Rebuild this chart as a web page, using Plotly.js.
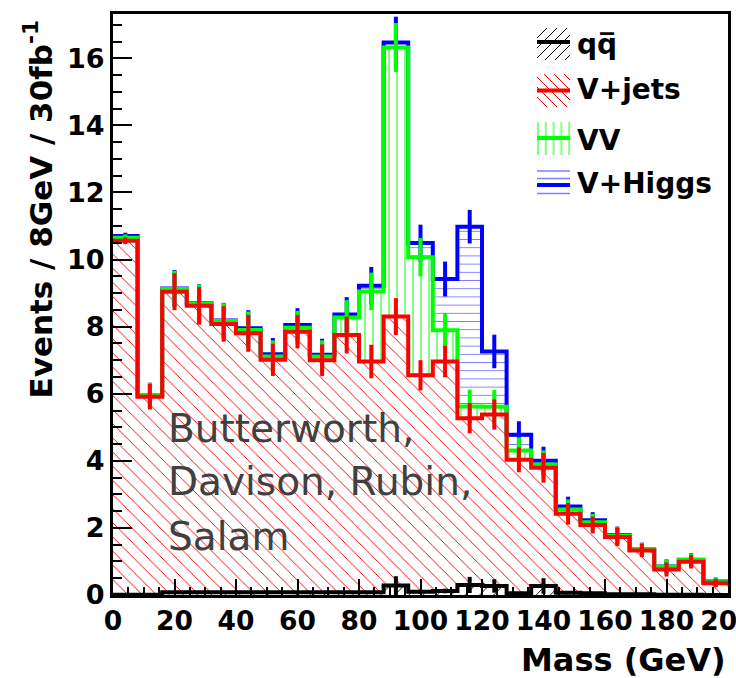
<!DOCTYPE html>
<html><head><meta charset="utf-8">
<script src="https://cdn.plot.ly/plotly-3.0.1.min.js"></script>
<style>html,body{margin:0;padding:0;background:#fff;overflow:hidden}#chart{width:736px;height:678px}
#chart pattern path{shape-rendering:crispEdges}</style>
</head><body><div id="chart"></div>
<script>
// ---- data (8 GeV bins, 0-200 GeV) ----
const binLow = [0,8,16,24,32,40,48,56,64,72,80,88,96,104,112,120,128,136,144,152,160,168,176,184,192];
const binWidth = 8;
// per-process contributions (stacked in order qq, V+jets, VV, V+Higgs)
const qq    = [0.01,0.01,0.08,0.08,0.08,0.08,0.08,0.08,0.08,0.08,0.08,0.28,0.10,0.12,0.30,0.27,0.05,0.27,0.07,0.05,0.02,0.02,0.01,0.01,0.00];
const vjets = [10.55,5.90,8.96,8.54,8.00,7.72,6.93,7.77,6.92,7.67,6.88,8.02,6.45,6.84,4.97,5.11,3.98,3.52,2.35,2.04,1.71,1.31,0.75,0.98,0.35];
const vv    = [0.09,0.03,0.08,0.07,0.09,0.10,0.10,0.12,0.11,0.52,2.09,8.02,3.52,0.93,0.35,0.23,0.28,0.10,0.13,0.08,0.03,0.02,0.08,0.05,0.03];
const vh    = [0.05,0.01,0.02,0.01,0.01,0.05,0.07,0.08,0.05,0.09,0.17,0.15,0.42,1.53,5.36,1.65,0.47,0.11,0.09,0.06,0.02,0.01,0.01,0.01,0.02];
// statistical errors on each stacked total
const errQQ    = [0.01,0.01,0.04,0.04,0.04,0.04,0.04,0.04,0.04,0.04,0.04,0.28,0.06,0.07,0.24,0.20,0.04,0.23,0.05,0.04,0.02,0.02,0.01,0.01,0.00];
const errVjets = [0.10,0.38,0.55,0.56,0.53,0.55,0.48,0.50,0.47,0.55,0.50,0.55,0.45,0.47,0.45,0.45,0.37,0.44,0.32,0.25,0.27,0.20,0.21,0.20,0.12];
const errVV    = [0.10,0.38,0.55,0.56,0.53,0.55,0.48,0.50,0.48,0.52,0.56,0.73,0.57,0.52,0.50,0.50,0.39,0.42,0.30,0.25,0.26,0.20,0.21,0.20,0.12];
const errVH    = [0.10,0.38,0.55,0.56,0.53,0.54,0.48,0.50,0.48,0.52,0.56,0.77,0.55,0.52,0.50,0.50,0.40,0.42,0.29,0.24,0.26,0.20,0.21,0.20,0.12];
const xTickVals = [0,20,40,60,80,100,120,140,160,180,200];
const xTickText = ['0','20','40','60','80','100','120','140','160','180','200'];
const yTickVals = [0,2,4,6,8,10,12,14,16];
const yTickText = ['0','2','4','6','8','10','12','14','16'];
const legendLabels = ['qq\u0305', 'V+jets', 'VV', 'V+Higgs'];
const authorLines = ['Butterworth,', 'Davison, Rubin,', 'Salam'];
const xTitle = 'Mass (GeV)';
const yTitle = 'Events / 8GeV / 30fb<sup>-1</sup>';

// ---- derived ----
const edges = binLow.concat([binLow[binLow.length-1] + binWidth]);
const centers = binLow.map(v => v + binWidth/2);
function cumsum(arrs){ return arrs[0].map((_, i) => arrs.reduce((s, a) => s + a[i], 0)); }
const topQQ = qq.slice();
const topVjets = cumsum([qq, vjets]);
const topVV = cumsum([qq, vjets, vv]);
const topVH = cumsum([qq, vjets, vv, vh]);

const FONT = 'DejaVu Sans';
function barTrace(y, shape, fg, size, sol){
  return {type:'bar', x:centers, y:y, width:binWidth, hoverinfo:'skip', showlegend:false,
    marker:{color:'white', line:{width:0},
      pattern:{shape:shape, fgcolor:fg, bgcolor:'white', size:size, solidity:sol, fillmode:'replace'}}};
}
function stepTrace(y, color, w){
  return {type:'scatter', mode:'lines', x:edges, y:y.concat([y[y.length-1]]), hoverinfo:'skip', showlegend:false,
    line:{shape:'hv', color:color, width:w}};
}
function errTrace(y, err, color, th){
  return {type:'scatter', mode:'markers', x:centers, y:y, hoverinfo:'skip', showlegend:false,
    marker:{size:2, color:color, opacity:0},
    error_y:{type:'data', array:err, visible:true, color:color, thickness:th, width:0}};
}

const traces = [
  barTrace(topVH, '-', '#7f7fff', 8.2, 0.2),
  barTrace(topVV, '|', '#80ff80', 8, 0.25),
  barTrace(topVjets, '\\', '#ff0000', 10, 0.11),
  barTrace(topQQ, '/', '#000000', 10, 0.11),
  stepTrace(topVH, '#0000ff', 4), errTrace(topVH, errVH, '#0000ff', 4),
  stepTrace(topVV, '#00ff00', 4), errTrace(topVV, errVV, '#00ff00', 4),
  stepTrace(topVjets, '#ff0000', 4), errTrace(topVjets, errVjets, '#ff0000', 4),
  stepTrace(topQQ, '#000000', 4), errTrace(topQQ, errQQ, '#000000', 4)
];

// ---- pixel helpers for legend decoration ----
const PL = 113, PR = 728, PT = 14, PB = 595;
const px2x = px => (px - PL) / (PR - PL);
const px2y = py => (PB - py) / (PB - PT);
function seg(x0, y0, x1, y1, color, w){
  return {type:'line', xref:'paper', yref:'paper', layer:'above',
    x0:px2x(x0), y0:px2y(y0), x1:px2x(x1), y1:px2y(y1), line:{color:color, width:w}};
}
function hatchShapes(box, kind, color, spacing, w){
  const [x0, x1, y0, y1] = box; const W = x1 - x0, H = y1 - y0; const out = [];
  if (kind === '\\'){
    for (let c = -H; c < W; c += spacing){
      const t0 = Math.max(0, -c), t1 = Math.min(H, W - c);
      if (t1 > t0) out.push(seg(x0 + c + t0, y0 + t0, x0 + c + t1, y0 + t1, color, w));
    }
  } else if (kind === '/'){
    for (let c = 0; c < W + H; c += spacing){
      const t0 = Math.max(0, c - W), t1 = Math.min(H, c);
      if (t1 > t0) out.push(seg(x0 + c - t0, y0 + t0, x0 + c - t1, y0 + t1, color, w));
    }
  } else if (kind === '|'){
    for (let x = x0 + 1; x <= x1; x += spacing) out.push(seg(x, y0, x, y1, color, w));
  } else if (kind === '-'){
    for (let y = y0 + 3; y <= y1; y += spacing) out.push(seg(x0, y, x1, y, color, w));
  }
  return out;
}
const legendDefs = [
  {box:[537,570,28,60],  hatch:'/',  hc:'#000000', hs:10, hw:1,   line:'#000000', ly:42,  ty:45},
  {box:[537,570,74,107], hatch:'\\', hc:'#ff0000', hs:10, hw:1,   line:'#ff0000', ly:90.5, ty:89},
  {box:[537,570,122,155],hatch:'|',  hc:'#80ff80', hs:7.8, hw:2,  line:'#00ff00', ly:138, ty:140},
  {box:[537,570,168,198],hatch:'-',  hc:'#7f7fff', hs:7.5, hw:1.6,line:'#0000ff', ly:185, ty:183}
];
let shapes = [];
const annotations = [];
legendDefs.forEach((d, i) => {
  shapes = shapes.concat(hatchShapes(d.box, d.hatch, d.hc, d.hs, d.hw));
  shapes.push(seg(d.box[0], d.ly, d.box[1], d.ly, d.line, 4));
  annotations.push({xref:'paper', yref:'paper', x:px2x(575), y:px2y(d.ty), xanchor:'left', yanchor:'middle',
    text:legendLabels[i], showarrow:false, font:{family:FONT, size:28, weight:'bold', color:'black'}});
});
const authorY = [428, 481, 536];
authorLines.forEach((t, i) => {
  annotations.push({xref:'paper', yref:'paper', x:px2x(166), y:px2y(authorY[i]), xanchor:'left', yanchor:'middle', align:'left',
    text:t, showarrow:false, font:{family:FONT, size:39, color:'#404040'}});
});
annotations.push({xref:'paper', yref:'paper', x:px2x(38), y:px2y(18), xanchor:'center', yanchor:'top', textangle:-90,
  text:yTitle, showarrow:false, font:{family:FONT, size:31, weight:'bold', color:'black'}});
annotations.push({xref:'paper', yref:'paper', x:px2x(728), y:px2y(660), xanchor:'right', yanchor:'middle',
  text:xTitle, showarrow:false, font:{family:FONT, size:32, weight:'bold', color:'black'}});

const axisCommon = {showline:true, linewidth:3, linecolor:'black', mirror:true, showgrid:false, zeroline:false,
  ticks:'inside', tickcolor:'black', tickwidth:2, fixedrange:true, tickmode:'array', tickangle:0,
  ticklabeloverflow:'allow'};
const layout = {
  width:736, height:678, margin:{l:PL, r:736-PR, t:PT, b:678-PB, pad:0},
  paper_bgcolor:'white', plot_bgcolor:'white', barmode:'overlay', bargap:0, showlegend:false,
  xaxis:Object.assign({}, axisCommon, {range:[0,200], tickvals:xTickVals, ticktext:xTickText, ticklen:16,
    minor:{ticks:'inside', tickmode:'linear', tick0:0, dtick:5, ticklen:8, tickwidth:2, tickcolor:'black', showgrid:false},
    tickfont:{family:FONT, size:26.5, weight:'bold', color:'black'}}),
  yaxis:Object.assign({}, axisCommon, {range:[0,17.32], tickvals:yTickVals, ticktext:yTickText, ticklen:19,
    minor:{ticks:'inside', tickmode:'linear', tick0:0, dtick:0.5, ticklen:9, tickwidth:2, tickcolor:'black', showgrid:false},
    tickfont:{family:FONT, size:27, weight:'bold', color:'black'}}),
  shapes:shapes, annotations:annotations
};
Plotly.newPlot('chart', traces, layout, {staticPlot:true, displayModeBar:false});
</script></body></html>
